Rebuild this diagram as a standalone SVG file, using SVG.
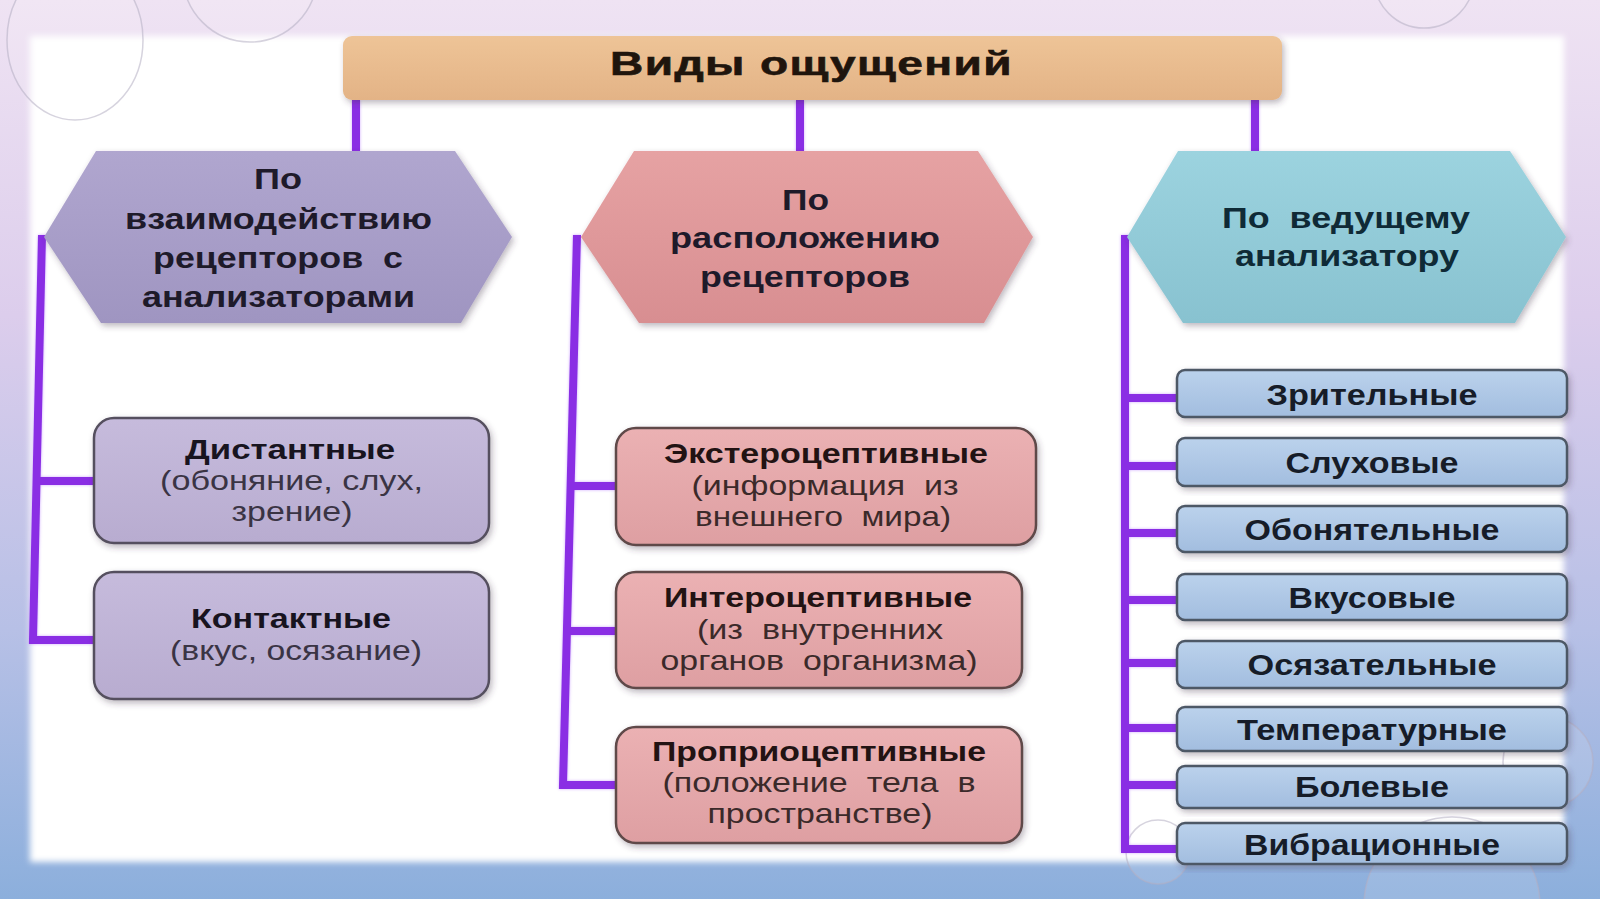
<svg xmlns="http://www.w3.org/2000/svg" width="1600" height="899" viewBox="0 0 1600 899">
<defs>
  <linearGradient id="bg" x1="0" y1="0" x2="0" y2="1">
    <stop offset="0" stop-color="#EFE3F3"/>
    <stop offset="0.35" stop-color="#DCCDEC"/>
    <stop offset="0.7" stop-color="#B7C0E6"/>
    <stop offset="1" stop-color="#8CAFDC"/>
  </linearGradient>
  <linearGradient id="gTitle" x1="0" y1="0" x2="0" y2="1">
    <stop offset="0" stop-color="#EEC497"/>
    <stop offset="1" stop-color="#E3B386"/>
  </linearGradient>
  <linearGradient id="gH1" x1="0" y1="0" x2="0" y2="1">
    <stop offset="0" stop-color="#B0A6CF"/>
    <stop offset="1" stop-color="#9F95C1"/>
  </linearGradient>
  <linearGradient id="gH2" x1="0" y1="0" x2="0" y2="1">
    <stop offset="0" stop-color="#E6A2A3"/>
    <stop offset="1" stop-color="#D88E91"/>
  </linearGradient>
  <linearGradient id="gH3" x1="0" y1="0" x2="0" y2="1">
    <stop offset="0" stop-color="#9CD3DF"/>
    <stop offset="1" stop-color="#88C2D0"/>
  </linearGradient>
  <linearGradient id="gL" x1="0" y1="0" x2="0" y2="1">
    <stop offset="0" stop-color="#C6BBDC"/>
    <stop offset="1" stop-color="#B8ACD0"/>
  </linearGradient>
  <linearGradient id="gM" x1="0" y1="0" x2="0" y2="1">
    <stop offset="0" stop-color="#EBB1B3"/>
    <stop offset="1" stop-color="#DE9FA2"/>
  </linearGradient>
  <linearGradient id="gR" x1="0" y1="0" x2="0" y2="1">
    <stop offset="0" stop-color="#BBD2EC"/>
    <stop offset="1" stop-color="#A2BDDF"/>
  </linearGradient>
  <filter id="soft" x="-5%" y="-5%" width="110%" height="110%">
    <feGaussianBlur stdDeviation="3"/>
  </filter>
  <filter id="sh" x="-10%" y="-10%" width="125%" height="130%">
    <feDropShadow dx="2" dy="3" stdDeviation="3" flood-color="#40304a" flood-opacity="0.35"/>
  </filter>
  <filter id="glow" x="-10%" y="-10%" width="120%" height="120%">
    <feDropShadow dx="0" dy="0" stdDeviation="1.5" flood-color="#B070FF" flood-opacity="0.6"/>
  </filter>
</defs>
<style>
  .t { font-family: "Liberation Sans", Arial, sans-serif; text-anchor: middle; }
  .title { font-size: 33px; fill: #1f150d; font-weight: bold; letter-spacing: 1px; stroke: #1f150d; stroke-width: 0.6px; }
  .hx { font-size: 30px; font-weight: bold; fill: #1e1a2a; }
  .hx3 { font-size: 30px; font-weight: bold; fill: #0f2a36; }
  .bx { font-size: 28px; }
  .lb { fill: #18141f; font-weight: bold; }
  .lr { fill: #3a3444; }
  .mb { fill: #221313; font-weight: bold; }
  .mr { fill: #3b2a2a; }
  .rb { font-size: 29px; font-weight: bold; fill: #161c28; }
  .conn { fill: none; stroke: #8A2EE4; stroke-width: 8; stroke-linejoin: miter; stroke-linecap: butt; }
  .bub { fill: #ffffff; fill-opacity: 0.12; stroke: #B4AEC2; stroke-width: 1.5; stroke-opacity: 0.55; }
  .boxL { fill: url(#gL); stroke: #55505e; stroke-width: 2.5; }
  .boxM { fill: url(#gM); stroke: #5e4848; stroke-width: 2.5; }
  .boxR { fill: url(#gR); stroke: #4e5866; stroke-width: 2.5; }
</style>

<!-- background -->
<rect x="0" y="0" width="1600" height="899" fill="url(#bg)"/>
<rect x="30" y="36" width="1534" height="826" fill="#ffffff" filter="url(#soft)"/>

<!-- decorative bubbles -->
<g id="bubbles">
  <ellipse class="bub" cx="75" cy="40" rx="68" ry="80" fill-opacity="0.2" stroke-opacity="0.35"/>
  <circle class="bub" cx="250" cy="-25" r="67"/>
  <circle class="bub" cx="1424" cy="-22" r="50"/>
  <circle class="bub" cx="1548" cy="762" r="45"/>
  <circle class="bub" cx="1158" cy="852" r="32"/>
  <circle class="bub" cx="1452" cy="905" r="88" fill-opacity="0.05"/>
</g>

<!-- connectors -->
<g id="connectors" filter="url(#glow)">
  <line class="conn" x1="356" y1="100" x2="356" y2="152"/>
  <line class="conn" x1="800" y1="100" x2="800" y2="152"/>
  <line class="conn" x1="1255" y1="100" x2="1255" y2="152"/>
  <polyline class="conn" points="42,235 33,640 95,640"/>
  <polyline class="conn" points="36.6,481 95,481"/>
  <polyline class="conn" points="577,235 563,785 617,785"/>
  <polyline class="conn" points="570.6,486 617,486"/>
  <polyline class="conn" points="567,631 617,631"/>
  <polyline class="conn" points="1125,235 1125,849 1178,849"/>
  <line class="conn" x1="1125" y1="398" x2="1178" y2="398"/>
  <line class="conn" x1="1125" y1="466" x2="1178" y2="466"/>
  <line class="conn" x1="1125" y1="533" x2="1178" y2="533"/>
  <line class="conn" x1="1125" y1="600" x2="1178" y2="600"/>
  <line class="conn" x1="1125" y1="663" x2="1178" y2="663"/>
  <line class="conn" x1="1125" y1="728" x2="1178" y2="728"/>
  <line class="conn" x1="1125" y1="785" x2="1178" y2="785"/>
</g>

<!-- title -->
<g id="title">
  <rect x="343" y="36" width="939" height="64" rx="9" fill="url(#gTitle)" filter="url(#sh)"/>
  <text class="t title" x="811.5" y="75" textLength="403" lengthAdjust="spacingAndGlyphs">Виды ощущений</text>
</g>

<!-- hexagons -->
<g id="hex-interaction">
  <polygon points="44,237 96,151 455,151 512,237 461,323 101,323" fill="url(#gH1)" filter="url(#sh)"/>
  <text class="t hx" x="278" y="189" textLength="48" lengthAdjust="spacingAndGlyphs">По</text>
  <text class="t hx" x="278.5" y="229" textLength="307" lengthAdjust="spacingAndGlyphs">взаимодействию</text>
  <text class="t hx" x="278" y="268" textLength="250" lengthAdjust="spacingAndGlyphs" style="white-space:pre">рецепторов  с</text>
  <text class="t hx" x="278.5" y="307" textLength="273" lengthAdjust="spacingAndGlyphs">анализаторами</text>
</g>
<g id="hex-location">
  <polygon points="581,237 634,151 978,151 1033,237 984,323 639,323" fill="url(#gH2)" filter="url(#sh)"/>
  <text class="t hx" x="805.5" y="210" textLength="47" lengthAdjust="spacingAndGlyphs">По</text>
  <text class="t hx" x="805" y="248" textLength="270" lengthAdjust="spacingAndGlyphs">расположению</text>
  <text class="t hx" x="805" y="287" textLength="210" lengthAdjust="spacingAndGlyphs">рецепторов</text>
</g>
<g id="hex-analyzer">
  <polygon points="1127,237 1178,151 1510,151 1566,237 1515,323 1183,323" fill="url(#gH3)" filter="url(#sh)"/>
  <text class="t hx3" x="1346" y="228" textLength="248" lengthAdjust="spacingAndGlyphs" style="white-space:pre">По  ведущему</text>
  <text class="t hx3" x="1347" y="266" textLength="224" lengthAdjust="spacingAndGlyphs">анализатору</text>
</g>

<!-- left boxes -->
<g id="box-distant">
  <rect class="boxL" x="94" y="418" width="395" height="125" rx="20" filter="url(#sh)"/>
  <text class="t bx lb" x="290" y="459" textLength="210" lengthAdjust="spacingAndGlyphs">Дистантные</text>
  <text class="t bx lr" x="291.5" y="490" textLength="263" lengthAdjust="spacingAndGlyphs">(обоняние, слух,</text>
  <text class="t bx lr" x="292" y="521" textLength="121" lengthAdjust="spacingAndGlyphs">зрение)</text>
</g>
<g id="box-contact">
  <rect class="boxL" x="94" y="572" width="395" height="127" rx="20" filter="url(#sh)"/>
  <text class="t bx lb" x="291" y="628" textLength="200" lengthAdjust="spacingAndGlyphs">Контактные</text>
  <text class="t bx lr" x="296" y="660" textLength="252" lengthAdjust="spacingAndGlyphs">(вкус, осязание)</text>
</g>

<!-- middle boxes -->
<g id="box-extero">
  <rect class="boxM" x="616" y="428" width="420" height="117" rx="20" filter="url(#sh)"/>
  <text class="t bx mb" x="826" y="463" textLength="324" lengthAdjust="spacingAndGlyphs">Экстероцептивные</text>
  <text class="t bx mr" x="825" y="495" textLength="267" lengthAdjust="spacingAndGlyphs" style="white-space:pre">(информация  из</text>
  <text class="t bx mr" x="823" y="526" textLength="256" lengthAdjust="spacingAndGlyphs" style="white-space:pre">внешнего  мира)</text>
</g>
<g id="box-intero">
  <rect class="boxM" x="616" y="572" width="406" height="116" rx="20" filter="url(#sh)"/>
  <text class="t bx mb" x="818" y="607" textLength="308" lengthAdjust="spacingAndGlyphs">Интероцептивные</text>
  <text class="t bx mr" x="820" y="639" textLength="246" lengthAdjust="spacingAndGlyphs" style="white-space:pre">(из  внутренних</text>
  <text class="t bx mr" x="819" y="670" textLength="317" lengthAdjust="spacingAndGlyphs" style="white-space:pre">органов  организма)</text>
</g>
<g id="box-proprio">
  <rect class="boxM" x="616" y="727" width="406" height="116" rx="20" filter="url(#sh)"/>
  <text class="t bx mb" x="819" y="761" textLength="334" lengthAdjust="spacingAndGlyphs">Проприоцептивные</text>
  <text class="t bx mr" x="819" y="792" textLength="313" lengthAdjust="spacingAndGlyphs" style="white-space:pre">(положение  тела  в</text>
  <text class="t bx mr" x="820" y="823" textLength="225" lengthAdjust="spacingAndGlyphs">пространстве)</text>
</g>

<!-- right boxes -->
<g id="box-visual">
  <rect class="boxR" x="1177" y="370" width="390" height="47" rx="8" filter="url(#sh)"/>
  <text class="t rb" x="1372" y="405" textLength="211" lengthAdjust="spacingAndGlyphs">Зрительные</text>
</g>
<g id="box-auditory">
  <rect class="boxR" x="1177" y="438" width="390" height="48" rx="8" filter="url(#sh)"/>
  <text class="t rb" x="1372" y="473" textLength="173" lengthAdjust="spacingAndGlyphs">Слуховые</text>
</g>
<g id="box-olfactory">
  <rect class="boxR" x="1177" y="506" width="390" height="46" rx="8" filter="url(#sh)"/>
  <text class="t rb" x="1372" y="540" textLength="255" lengthAdjust="spacingAndGlyphs">Обонятельные</text>
</g>
<g id="box-taste">
  <rect class="boxR" x="1177" y="574" width="390" height="46" rx="8" filter="url(#sh)"/>
  <text class="t rb" x="1372" y="608" textLength="167" lengthAdjust="spacingAndGlyphs">Вкусовые</text>
</g>
<g id="box-tactile">
  <rect class="boxR" x="1177" y="641" width="390" height="47" rx="8" filter="url(#sh)"/>
  <text class="t rb" x="1372" y="675" textLength="249" lengthAdjust="spacingAndGlyphs">Осязательные</text>
</g>
<g id="box-temperature">
  <rect class="boxR" x="1177" y="707" width="390" height="44" rx="8" filter="url(#sh)"/>
  <text class="t rb" x="1372" y="740" textLength="270" lengthAdjust="spacingAndGlyphs">Температурные</text>
</g>
<g id="box-pain">
  <rect class="boxR" x="1177" y="766" width="390" height="42" rx="8" filter="url(#sh)"/>
  <text class="t rb" x="1372" y="797" textLength="154" lengthAdjust="spacingAndGlyphs">Болевые</text>
</g>
<g id="box-vibration">
  <rect class="boxR" x="1177" y="823" width="390" height="41" rx="8" filter="url(#sh)"/>
  <text class="t rb" x="1372" y="855" textLength="256" lengthAdjust="spacingAndGlyphs">Вибрационные</text>
</g>
</svg>
